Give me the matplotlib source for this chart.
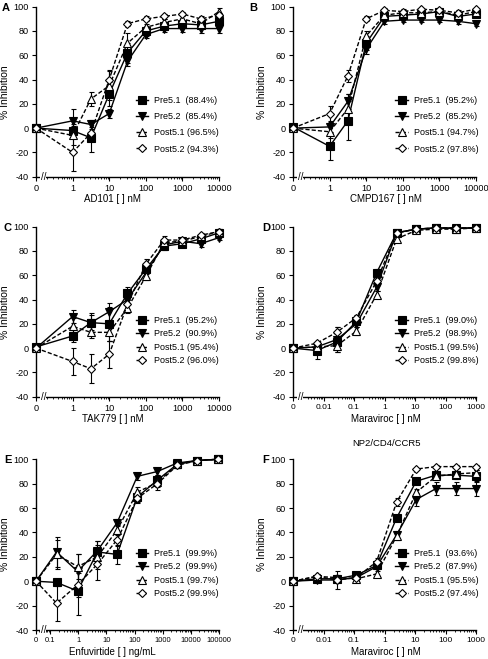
import matplotlib
matplotlib.use('Agg')
import matplotlib.pyplot as plt
from matplotlib.ticker import LogLocator, NullFormatter, FixedLocator
import numpy as np

plt.rcParams['font.family'] = ['Liberation Sans', 'DejaVu Sans']
plt.rcParams['axes.unicode_minus'] = False

series_names = ['Pre5.1', 'Pre5.2', 'Post5.1', 'Post5.2']

# A - AD101 (nM)
a_conc = [0, 1, 3.16, 10, 31.6, 100, 316, 1000, 3160, 10000]
a_pre51 = [0, -2, -8, 28, 62, 80, 84, 86, 85, 88]
a_pre51_err = [1, 5, 12, 10, 8, 4, 3, 3, 3, 4]
a_pre52 = [0, 6, 3, 12, 55, 77, 82, 82, 82, 82]
a_pre52_err = [1, 10, 4, 4, 4, 3, 3, 3, 4, 4]
a_post51 = [0, -6, 24, 35, 70, 83, 87, 90, 86, 96]
a_post51_err = [1, 8, 6, 12, 8, 3, 3, 3, 3, 3]
a_post52 = [0, -20, -4, 40, 86, 90, 92, 94, 90, 93]
a_post52_err = [1, 15, 5, 8, 2, 2, 2, 2, 2, 2]
a_pct = ['88.4', '85.4', '96.5', '94.3']

# B - CMPD167 (nM)
b_conc = [0, 1, 3.16, 10, 31.6, 100, 316, 1000, 3160, 10000]
b_pre51 = [1, -15, 6, 70, 92, 93, 94, 96, 92, 94]
b_pre51_err = [1, 11, 16, 6, 2, 2, 2, 2, 3, 2]
b_pre52 = [0, 1, 22, 65, 88, 89, 89, 89, 88, 86]
b_pre52_err = [1, 4, 6, 4, 2, 2, 2, 2, 2, 2]
b_post51 = [0, -3, 16, 76, 93, 95, 95, 96, 93, 96]
b_post51_err = [1, 5, 12, 4, 2, 2, 2, 2, 2, 2]
b_post52 = [0, 12, 43, 90, 97, 96, 98, 97, 95, 98]
b_post52_err = [1, 6, 5, 2, 2, 2, 1, 2, 2, 1]
b_pct = ['95.2', '85.2', '94.7', '97.8']

# C - TAK779 (nM)
c_conc = [0, 1, 3.16, 10, 31.6, 100, 316, 1000, 3160, 10000]
c_pre51 = [1, 10, 21, 20, 45, 65, 84, 86, 90, 95]
c_pre51_err = [1, 5, 8, 14, 5, 4, 3, 3, 3, 2]
c_pre52 = [0, 26, 21, 30, 40, 62, 85, 88, 86, 91]
c_pre52_err = [1, 5, 6, 7, 4, 4, 3, 3, 3, 2]
c_post51 = [0, 18, 13, 13, 33, 59, 87, 88, 92, 96]
c_post51_err = [1, 7, 5, 7, 4, 3, 3, 2, 2, 2]
c_post52 = [0, -11, -17, -5, 36, 69, 89, 89, 93, 96]
c_post52_err = [1, 11, 12, 11, 4, 4, 3, 2, 2, 2]
c_pct = ['95.2', '90.9', '95.4', '96.0']

# D - Maraviroc (nM)
d_conc = [0, 0.006, 0.027, 0.12, 0.55, 2.5, 11, 49, 220, 1000]
d_pre51 = [0, -2, 5, 22, 62, 95, 98, 99, 98.5, 99]
d_pre51_err = [1, 7, 5, 3, 3, 1, 1, 1, 1, 1]
d_pre52 = [0, 1, 7, 20, 50, 95, 98, 99, 99, 99]
d_pre52_err = [1, 3, 10, 3, 3, 1, 1, 1, 1, 1]
d_post51 = [0, 1, 2, 14, 44, 90, 97, 98, 98, 99]
d_post51_err = [1, 3, 5, 3, 3, 2, 1, 1, 1, 1]
d_post52 = [0, 4, 13, 25, 55, 95, 98, 99, 99, 99]
d_post52_err = [1, 2, 4, 2, 3, 1, 1, 1, 1, 1]
d_pct = ['99.0', '98.9', '99.5', '99.8']

# E - Enfuvirtide (ng/mL)
e_conc = [0, 0.17, 0.95, 4.8, 24, 125, 650, 3300, 17000, 90000]
e_pre51 = [0, -1, -8, 24, 22, 69, 83, 96, 99, 100]
e_pre51_err = [1, 3, 20, 9, 8, 4, 4, 2, 1, 2]
e_pre52 = [0, 24, 8, 25, 48, 86, 90, 97, 99, 100]
e_pre52_err = [1, 12, 14, 8, 3, 3, 3, 2, 1, 1]
e_post51 = [0, 22, 12, 20, 42, 73, 81, 96, 99, 100]
e_post51_err = [1, 12, 10, 10, 4, 4, 4, 2, 1, 1]
e_post52 = [0, -18, -3, 14, 34, 68, 80, 95, 99, 100]
e_post52_err = [1, 15, 10, 13, 5, 4, 5, 2, 1, 1]
e_pct = ['99.9', '99.9', '99.7', '99.9']

# F - Maraviroc on NP2/CD4/CCR5 (nM)
f_conc = [0, 0.006, 0.027, 0.12, 0.55, 2.5, 11, 49, 220, 1000]
f_pre51 = [0, 2, 2, 5, 13, 52, 82, 87, 87, 86]
f_pre51_err = [1, 2, 2, 2, 2, 2, 2, 3, 3, 5]
f_pre52 = [0, 1, 1, 3, 12, 38, 67, 76, 76, 76]
f_pre52_err = [1, 2, 2, 2, 2, 3, 5, 5, 5, 6]
f_post51 = [0, 4, 3, 2, 6, 37, 73, 86, 88, 89]
f_post51_err = [1, 2, 2, 2, 2, 3, 3, 2, 2, 2]
f_post52 = [0, 4, 1, 3, 16, 65, 92, 94, 94, 94]
f_post52_err = [1, 2, 7, 3, 3, 3, 1, 1, 1, 1]
f_pct = ['93.6', '87.9', '95.5', '97.4']

ticks_nm = ['0', '1', '10', '100', '1000', '10000']
ticks_mvc = ['0', '0.01', '0.1', '1', '10', '100', '1000']
ticks_enf = ['0', '0.1', '1', '10', '100', '1000', '10000', '100000']

# letter, conc, series, errors, pct, tick labels, zero position, xlabel,
# rect(px), letter x(px), xlabel x, legend spacing, legend x, x tick size
panels = [
    ('A', a_conc, [a_pre51, a_pre52, a_post51, a_post52],
     [a_pre51_err, a_pre52_err, a_post51_err, a_post52_err], a_pct, ticks_nm, 0.1,
     'AD101 [ ] nM', (36, 6.7, 183, 170), 2, 0.42, 0.8, 0.545, 6.6),
    ('B', b_conc, [b_pre51, b_pre52, b_post51, b_post52],
     [b_pre51_err, b_pre52_err, b_post51_err, b_post52_err], b_pct, ticks_nm, 0.1,
     'CMPD167 [ ] nM', (293, 6.7, 183, 170), 249, 0.51, 0.8, 0.56, 6.6),
    ('C', c_conc, [c_pre51, c_pre52, c_post51, c_post52],
     [c_pre51_err, c_pre52_err, c_post51_err, c_post52_err], c_pct, ticks_nm, 0.1,
     'TAK779 [ ] nM', (36, 226.7, 183, 170), 4, 0.42, 0.5, 0.545, 6.6),
    ('D', d_conc, [d_pre51, d_pre52, d_post51, d_post52],
     [d_pre51_err, d_pre52_err, d_post51_err, d_post52_err], d_pct, ticks_mvc, 0.001,
     'Maraviroc [ ] nM', (293, 226.7, 183, 170), 262, 0.51, 0.5, 0.56, 6.0),
    ('E', e_conc, [e_pre51, e_pre52, e_post51, e_post52],
     [e_pre51_err, e_pre52_err, e_post51_err, e_post52_err], e_pct, ticks_enf, 10 ** -1.5,
     'Enfuvirtide [ ] ng/mL', (36, 459.3, 183, 170.7), 4, 0.42, 0.5, 0.545, 5.4),
    ('F', f_conc, [f_pre51, f_pre52, f_post51, f_post52],
     [f_pre51_err, f_pre52_err, f_post51_err, f_post52_err], f_pct, ticks_mvc, 0.001,
     'Maraviroc [ ] nM', (293, 459.3, 183, 170.7), 262, 0.51, 0.5, 0.56, 6.0),
]

styles = [
    dict(marker='s', ms=5.4, mfc='black', ls='-'),
    dict(marker='v', ms=5.8, mfc='black', ls='-'),
    dict(marker='^', ms=5.2, mfc='white', ls=(0, (3, 1.5))),
    dict(marker='D', ms=4.0, mfc='white', ls=(0, (3, 1.5))),
]

W, H = 489, 659
fig = plt.figure(figsize=(W / 100, H / 100), dpi=100)

for (letter, conc, ys, errs, pct, tlabels, zero, xlabel, rect, lx, xlab_x,
     lspace, leg_x, xtsize) in panels:
    x0, y0, w, h = rect
    ax = fig.add_axes([x0 / W, 1 - (y0 + h) / H, w / W, h / H])
    xs = [zero if c == 0 else c for c in conc]
    handles = []
    for i in range(4):
        st = styles[i]
        ax.errorbar(xs, ys[i], yerr=errs[i], fmt='none', ecolor='black',
                    elinewidth=0.8, capsize=1.8, capthick=0.8, clip_on=False, zorder=2)
        ln, = ax.plot(xs, ys[i], color='black', lw=1.0, linestyle=st['ls'],
                      marker=st['marker'], ms=st['ms'], mfc=st['mfc'], mec='black',
                      mew=0.8, clip_on=False, zorder=3 + i)
        handles.append(ln)
    labels = []
    for name, p in zip(series_names, pct):
        pad = '  ' if name.startswith('Pre') else ' '
        labels.append(name + pad + '(' + p + '%)')
    ax.legend(handles, labels, loc='upper left', bbox_to_anchor=(leg_x, 0.475),
              frameon=False, fontsize=6.5, handlelength=1.4, handletextpad=0.6,
              labelspacing=lspace, borderpad=0, borderaxespad=0, numpoints=1)

    ax.set_xscale('log')
    major = [zero] + [float(t) for t in tlabels[1:]]
    ax.set_xlim(zero, major[-1])
    ax.xaxis.set_major_locator(FixedLocator(major))
    ax.set_xticklabels(tlabels)
    ax.xaxis.set_minor_locator(LogLocator(base=10, subs=np.arange(2, 10), numticks=20))
    ax.xaxis.set_minor_formatter(NullFormatter())
    ax.set_ylim(-40, 100)
    ax.set_yticks(np.arange(-40, 101, 20))

    for s in ['top', 'right']:
        ax.spines[s].set_visible(False)
    for s in ['left', 'bottom']:
        ax.spines[s].set_linewidth(1.0)
    ax.tick_params(axis='both', which='major', direction='out', length=3, width=0.8, pad=2)
    ax.tick_params(axis='y', labelsize=6.6)
    ax.tick_params(axis='x', labelsize=xtsize)
    ax.tick_params(axis='x', which='minor', direction='out', length=1.5, width=0.6)

    ax.set_ylabel('% Inhibition', fontsize=7.5)
    ax.yaxis.set_label_coords(-0.14, 0.5)
    ax.set_xlabel(xlabel, fontsize=7)
    ax.xaxis.set_label_coords(xlab_x, -0.10)

    # axis break
    ax.text(0.04, 0.0, '//', transform=ax.transAxes, ha='center', va='center',
            fontsize=7, bbox=dict(facecolor='white', edgecolor='none', pad=0.2), zorder=10)

    fig.text(lx / W, 1 - (y0 + 1) / H, letter, fontsize=8, fontweight='bold',
             ha='left', va='center')

    if letter == 'F':
        ax.text(0.51, 1.09, 'NP2/CD4/CCR5', transform=ax.transAxes, ha='center',
                va='center', fontsize=6.8)

fig.savefig('out.png', dpi=100)
